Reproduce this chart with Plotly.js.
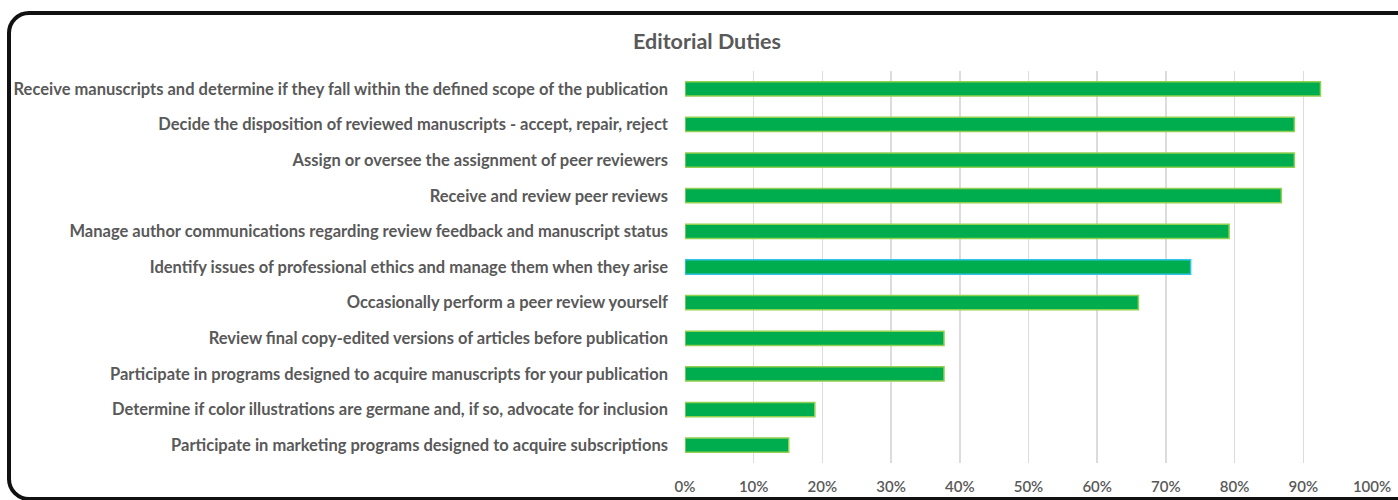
<!DOCTYPE html>
<html>
<head>
<meta charset="utf-8">
<script src="https://cdn.plot.ly/plotly-3.0.1.min.js"></script>
<style>
  html, body { margin: 0; padding: 0; background: #ffffff; }
  #wrap { position: relative; width: 1398px; height: 500px; overflow: hidden; }
  #chart { position: absolute; left: 0; top: 0; width: 1398px; height: 500px; }
  #frame { position: absolute; left: 7px; top: 11px; width: 1420px; height: 490px;
           border: 4px solid #111; border-radius: 22px; box-sizing: border-box; pointer-events: none; }
</style>
</head>
<body>
<div id="wrap">
  <div id="chart"></div>
  <div id="frame"></div>
</div>
<script>
const categories = [
  "Receive manuscripts and determine if they fall within the defined scope of the publication",
  "Decide the disposition of reviewed manuscripts - accept, repair, reject",
  "Assign or oversee the assignment of peer reviewers",
  "Receive and review peer reviews",
  "Manage author communications regarding review feedback and manuscript status",
  "Identify issues of professional ethics and manage them when they arise",
  "Occasionally perform a peer review yourself",
  "Review final copy-edited versions of articles before publication",
  "Participate in programs designed to acquire manuscripts for your publication",
  "Determine if color illustrations are germane and, if so, advocate for inclusion",
  "Participate in marketing programs designed to acquire subscriptions"
];
const shares = [0.925, 0.887, 0.887, 0.868, 0.792, 0.736, 0.660, 0.377, 0.377, 0.189, 0.151];
const outlineColors = ["#92D050","#92D050","#92D050","#92D050","#92D050","#33C3E8","#92D050","#92D050","#92D050","#92D050","#92D050"];
const xTickValues = [0,0.1,0.2,0.3,0.4,0.5,0.6,0.7,0.8,0.9,1.0];
const xTickLabels = ["0%","10%","20%","30%","40%","50%","60%","70%","80%","90%","100%"];

const FONT = "Lato, 'Open Sans', sans-serif";

const trace = {
  type: "bar",
  orientation: "h",
  y: categories,
  x: shares,
  marker: { color: "#00AD4E", line: { color: outlineColors, width: 1.5 } },
  hoverinfo: "x+y"
};

const layout = {
  width: 1398,
  height: 500,
  margin: { l: 685, r: 26.3, t: 71, b: 37, pad: 0 },
  paper_bgcolor: "#ffffff",
  plot_bgcolor: "#ffffff",
  showlegend: false,
  bargap: 0.6,
  title: {
    text: "<b>Editorial Duties</b>",
    x: 707 / 1398, xanchor: "center", xref: "container",
    y: 1 - 41 / 500, yanchor: "middle", yref: "container",
    font: { family: FONT, size: 21.5, color: "#595959" }
  },
  font: { family: FONT, color: "#595959" },
  xaxis: {
    range: [0, 1.0],
    tickvals: xTickValues,
    ticktext: xTickLabels,
    showgrid: true,
    gridcolor: "#DCDCDC",
    gridwidth: 1.5,
    zeroline: false,
    showline: false,
    ticks: "",
    ticklabelstandoff: 13,
    tickfont: { family: FONT, size: 15, color: "#595959", weight: 600 },
    fixedrange: true
  },
  yaxis: {
    type: "category",
    autorange: "reversed",
    showgrid: false,
    zeroline: false,
    showline: false,
    ticks: "",
    ticklabelstandoff: 16,
    tickfont: { family: FONT, size: 16.5, color: "#595959", weight: 700 },
    fixedrange: true
  }
};

Plotly.newPlot("chart", [trace], layout, { displayModeBar: false, staticPlot: true });
</script>
</body>
</html>
